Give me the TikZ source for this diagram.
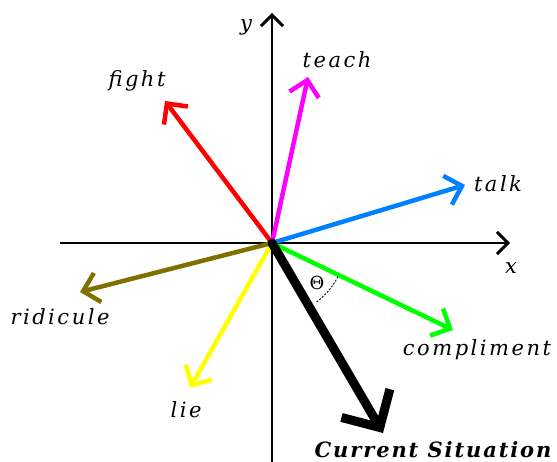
\documentclass[tikz,border=0pt]{standalone}
\usepackage{fontspec}
\setmainfont{DejaVu Serif}
\usetikzlibrary{arrows.meta}
\definecolor{cblue}{RGB}{0,128,255}
\definecolor{colive}{RGB}{128,112,0}
\definecolor{cgreen}{RGB}{0,255,0}
\definecolor{cyellow}{RGB}{255,255,0}
\definecolor{cmag}{RGB}{255,0,255}
\definecolor{cred}{RGB}{255,0,0}
\tikzset{
  vec/.style={line width=4.5pt,line cap=round,-{Straight Barb[length=15pt,width=30pt,line width=4.5pt]}},
  axis/.style={line width=2.8pt,-{Straight Barb[length=11pt,width=22pt,line width=3pt]}},
  lbl/.style={font=\fontsize{21}{21}\selectfont\itshape\addfontfeature{LetterSpace=12},inner sep=0pt},
}
\begin{document}
\begin{tikzpicture}[x=1pt,y=-1pt]
\useasboundingbox (0,0) rectangle (557,462);
\coordinate (O) at (272,243);
\coordinate (xs) at (60,243);
\coordinate (xe) at (510,243);
\coordinate (ys) at (272,462);
\coordinate (ye) at (272,13);
\draw[axis] (xs) -- (xe);
\draw[axis] (ys) -- (ye);
\node[lbl] (xl) at (511,268) {x};
\node[lbl] (yl) at (246,27) {y};
% vectors
\coordinate (tf) at (165,101);
\coordinate (tt) at (308,77);
\coordinate (tk) at (465,185);
\coordinate (tc) at (453,330);
\coordinate (tl) at (190,388);
\coordinate (tr) at (80,292);
\coordinate (ts) at (383,433);
\draw[vec,cred] (O) -- (tf);
\draw[vec,cmag] (O) -- (tt);
\draw[vec,cblue] (O) -- (tk);
\draw[vec,cgreen] (O) -- (tc);
\draw[vec,cyellow] (O) -- (tl);
\draw[vec,colive] (O) -- (tr);
\draw[line width=9pt,line cap=round,-{Straight Barb[length=28pt,width=56pt,line width=9pt]}] (O) -- (ts);
\node[lbl] (nf) at (137,81) {fight};
\node[lbl] (nt) at (337,60) {teach};
\node[lbl] (nk) at (498,184) {talk};
\node[lbl] (nc) at (477,350) {compliment};
\node[lbl] (nl) at (186,410) {lie};
\node[lbl] (nr) at (60,317) {ridicule};
\node[font=\fontsize{21}{21}\selectfont\bfseries\itshape\addfontfeature{LetterSpace=9},inner sep=0pt] (ns) at (433,450) {Current Situation};
% angle
\draw[line width=0.9pt,dash pattern=on 2pt off 1.5pt] (O) ++(27:74) arc[start angle=27,end angle=53,radius=74];
\node[font=\fontsize{18}{18}\selectfont,inner sep=0pt] (th) at (317,283) {Θ};
\end{tikzpicture}
\end{document}
